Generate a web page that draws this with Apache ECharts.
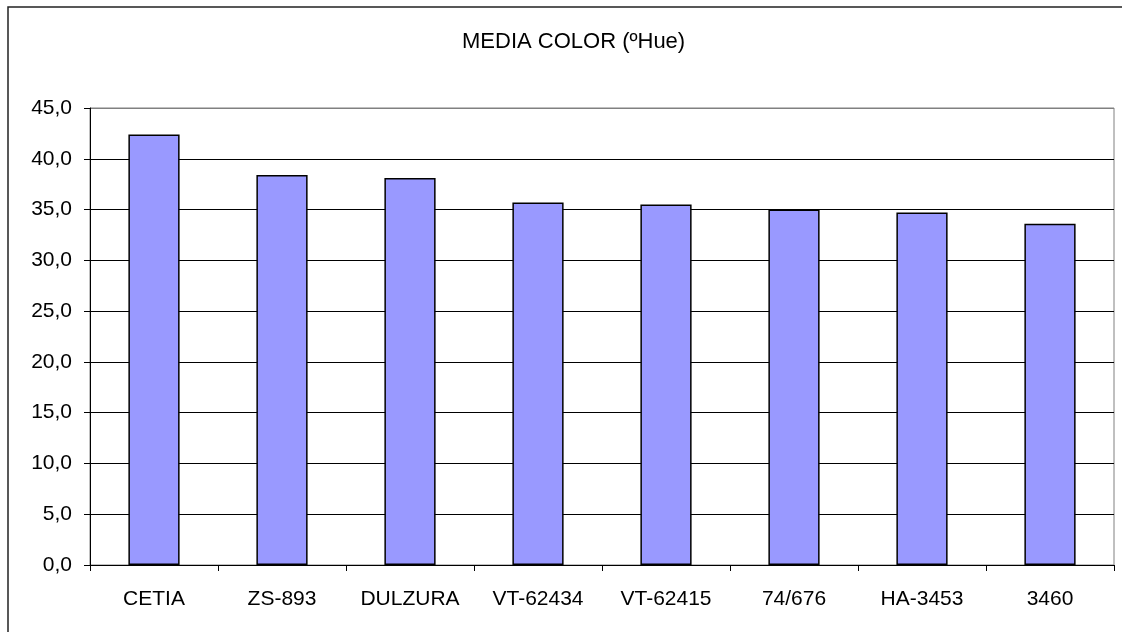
<!DOCTYPE html>
<html>
<head>
<meta charset="utf-8">
<script src="https://cdn.jsdelivr.net/npm/echarts@6/dist/echarts.min.js"></script>
<style>
  html, body { margin: 0; padding: 0; background: #fff; }
  #chart { width: 1122px; height: 632px; }
</style>
</head>
<body>
<div id="chart"></div>
<script>
var chartDom = document.getElementById('chart');
var chart = echarts.init(chartDom);

var varieties = ['CETIA', 'ZS-893', 'DULZURA', 'VT-62434', 'VT-62415', '74/676', 'HA-3453', '3460'];
var hueValues = [42.4, 38.4, 38.1, 35.7, 35.5, 35.0, 34.7, 33.6];
var chartTitle = 'MEDIA COLOR (ºHue)';

var font = '"Liberation Sans", Arial, sans-serif';

var option = {
  animation: false,
  backgroundColor: '#fff',
  title: {
    text: chartTitle,
    left: 457,
    top: 26,
    textStyle: { fontFamily: font, fontSize: 22, fontWeight: 'normal', color: '#000' }
  },
  graphic: [{
    type: 'rect',
    shape: { x: 8, y: 7, width: 1200, height: 700 },
    style: { fill: 'none', stroke: '#222', lineWidth: 1.5 },
    silent: true
  }],
  grid: {
    left: 90,
    right: 8,
    top: 108,
    bottom: 67,
    show: true,
    borderColor: '#808080',
    borderWidth: 1
  },
  xAxis: {
    type: 'category',
    data: varieties,
    axisLine: { lineStyle: { color: '#000', width: 1 } },
    axisTick: { show: true, length: 6, lineStyle: { color: '#000' } },
    axisLabel: { fontFamily: font, fontSize: 21, color: '#000', margin: 24, interval: 0 }
  },
  yAxis: {
    type: 'value',
    min: 0,
    max: 45,
    interval: 5,
    axisLine: { show: true, lineStyle: { color: '#000', width: 1 } },
    axisTick: { show: true, length: 6, lineStyle: { color: '#000' } },
    axisLabel: {
      fontFamily: font, fontSize: 21, color: '#000', margin: 18,
      formatter: function (v) { return v.toFixed(1).replace('.', ','); }
    },
    splitLine: {
      lineStyle: {
        color: ['#000', '#000', '#000', '#000', '#000', '#000', '#000', '#000', '#000', '#808080'],
        width: 1
      }
    }
  },
  series: [{
    type: 'bar',
    data: hueValues,
    barWidth: '40%',
    itemStyle: { color: '#9999ff', borderColor: '#000', borderWidth: 1.5 }
  }]
};

option && chart.setOption(option);
</script>
</body>
</html>
